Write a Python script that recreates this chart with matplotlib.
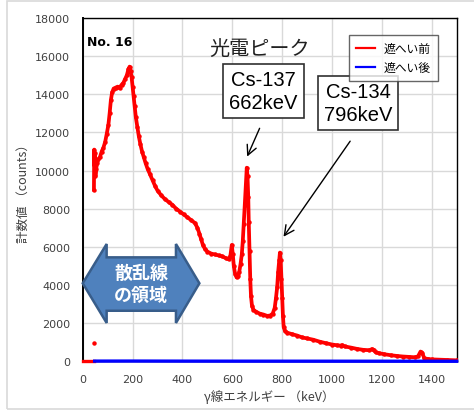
import matplotlib
matplotlib.use("Agg")
import matplotlib.pyplot as plt
from matplotlib.patches import Polygon, Rectangle

plt.rcParams['font.family'] = ['DejaVu Sans', 'Noto Sans CJK JP']

# before shielding (遮へい前)
floor_kev = [0, 8, 16, 24, 32, 40, 46]
floor_counts = [0, 0, 0, 0, 0, 0, 0]
spike_kev = [47]
spike_counts = [950]

spectrum_kev = [45, 46, 47, 49, 51, 54, 58, 63, 69, 76, 83, 90, 96, 103, 108,
                113, 118, 124, 132, 140, 148, 156, 163, 170, 177, 183, 188, 192,
                196, 200, 204, 208, 213, 219, 225, 231, 238, 245, 252, 260, 270,
                280, 290, 300, 315, 330, 345, 360, 375, 390, 405, 420, 435, 450,
                460, 468, 475, 482, 490, 500, 515, 530, 545, 560, 575, 585, 592,
                598, 602, 606, 611, 617, 623, 628, 633, 638, 642, 646, 650, 654,
                658, 661, 664, 666, 669, 672, 675, 679, 685, 695, 710, 725, 740,
                752, 762, 770, 775, 780, 784, 788, 791, 794, 797, 800, 803, 806,
                811, 820, 840, 860, 880, 900, 925, 950, 975, 1000, 1020, 1035,
                1040, 1050, 1075, 1100, 1125, 1150, 1160, 1167, 1175, 1190, 1210,
                1235, 1260, 1285, 1310, 1333, 1345, 1355, 1362, 1370, 1385, 1400,
                1430, 1460, 1500]
spectrum_counts = [9000, 11100, 10300, 10900, 9700, 10100, 10400, 10600, 10700,
                   11000, 11200, 11500, 11900, 12400, 13000, 13700, 14100, 14300,
                   14350, 14400, 14350, 14500, 14600, 14800, 15000, 15300, 15450,
                   15200, 14900, 14400, 13900, 13400, 12800, 12300, 11800, 11400,
                   11000, 10700, 10400, 10100, 9800, 9500, 9200, 8950, 8700, 8500,
                   8350, 8200, 8000, 7850, 7700, 7550, 7400, 7250, 7000, 6700,
                   6400, 6100, 5900, 5750, 5650, 5600, 5550, 5500, 5400, 5350,
                   5500, 6100, 5600, 5000, 4600, 4400, 4450, 4700, 5100, 5600,
                   6300, 7200, 8200, 9200, 10150, 9700, 8600, 7300, 5800, 4300,
                   3400, 2900, 2700, 2600, 2500, 2450, 2380, 2400, 2500, 2800,
                   3300, 3900, 4700, 5300, 5700, 5300, 4300, 3300, 2400, 1800,
                   1600, 1500, 1420, 1350, 1250, 1200, 1130, 1030, 950, 880, 840,
                   820, 850, 780, 720, 650, 600, 580, 640, 600, 470, 420, 370, 320,
                   280, 250, 230, 210, 260, 510, 430, 160, 120, 100, 85, 70, 50]

# after shielding (遮へい後)
after_kev = [48, 200, 400, 600, 800, 1000, 1200, 1400, 1500]
after_counts = [10, 12, 8, 6, 5, 4, 3, 2, 1]

xticks = [0, 200, 400, 600, 800, 1000, 1200, 1400]
yticks = list(range(0, 18001, 2000))

fig = plt.figure(figsize=(4.74, 4.14), dpi=100)
fig.patches.append(Rectangle((7 / 474, 4 / 414), 1.0, 1 - 6 / 414, transform=fig.transFigure,
                             fill=False, edgecolor='#d9d9d9', linewidth=1.2))
ax = fig.add_axes([0.1745, 0.1249, 0.789, 0.8292])

red = '#ff0000'
ax.plot(floor_kev, floor_counts, color=red, lw=2.4, zorder=3, clip_on=False)
ax.plot(spike_kev, spike_counts, 'o', color=red, ms=2.2, zorder=3)
ax.plot(spectrum_kev, spectrum_counts, '-', color=red, lw=2.7, zorder=3,
        marker='o', ms=2.2, label='遮へい前')
ax.plot(after_kev, after_counts, color='#0000ff', lw=2.4, zorder=4,
        clip_on=False, label='遮へい後')

ax.set_xlim(0, 1500)
ax.set_ylim(0, 18000)
ax.set_xticks(xticks)
ax.set_yticks(yticks)
ax.grid(True, color='#d9d9d9', lw=1)
ax.set_axisbelow(True)
ax.tick_params(length=0, labelsize=8, labelcolor='#404040')
ax.tick_params(axis='x', pad=9)
ax.tick_params(axis='y', pad=9)
for s in ax.spines.values():
    s.set_color('black')
    s.set_linewidth(1.0)
ax.spines['left'].set_linewidth(1.4)

ax.set_xlabel('γ線エネルギー （keV）', fontsize=9, color='#404040',
              family=['Noto Sans CJK JP', 'DejaVu Sans'], labelpad=4)
ax.set_ylabel('計数値 （counts）', fontsize=9, color='#404040',
              family=['Noto Sans CJK JP', 'DejaVu Sans'], labelpad=4)

leg = ax.legend(loc='upper right', bbox_to_anchor=(0.966, 0.967), fontsize=8.5,
                frameon=True, fancybox=False, handlelength=1.6, borderpad=0.6,
                labelspacing=0.5, prop={'family': ['Noto Sans CJK JP', 'DejaVu Sans'], 'size': 8.5})
leg.get_frame().set_edgecolor('#404040')
leg.get_frame().set_linewidth(1.0)
for h in leg.legend_handles:
    h.set_marker('')
    h.set_linewidth(1.6)

ax.text(0.012, 0.932, 'No. 16', transform=ax.transAxes, fontsize=9,
        fontweight='bold', va='center', ha='left')
ax.text(710, 16400, '光電ピーク', fontsize=14.5, ha='center', va='center',
        family=['Noto Sans CJK JP'], color='#202020')

box = dict(boxstyle='square,pad=0.3', fc='white', ec='#303030', lw=1.2)
ax.text(725, 14190, 'Cs-137\n662keV', fontsize=14.5, ha='center', va='center',
        family='Liberation Sans', linespacing=1.25, bbox=box)
ax.text(1104, 13560, 'Cs-134\n796keV', fontsize=14.5, ha='center', va='center',
        family='Liberation Sans', linespacing=1.25, bbox=box)
ax.annotate('', xy=(655, 10600), xytext=(714, 12350),
            arrowprops=dict(arrowstyle='->,head_length=0.7,head_width=0.35', lw=1.0, color='black'))
ax.annotate('', xy=(799, 6410), xytext=(1079, 11660),
            arrowprops=dict(arrowstyle='->,head_length=0.7,head_width=0.35', lw=1.0, color='black'))

arrow_shape = [(0, 4090), (96, 6150), (96, 5450), (374, 5450), (374, 6150), (468, 4090),
               (374, 2010), (374, 2650), (96, 2650), (96, 2010)]
ax.add_patch(Polygon(arrow_shape, closed=True, fc='#4f81bd', ec='#385d8a', lw=1.8,
                     zorder=5, clip_on=False))
ax.text(234, 4090, '散乱線\nの領域', fontsize=13, fontweight='bold', color='white',
        ha='center', va='center', family=['Noto Sans CJK JP'], linespacing=1.2, zorder=6)

fig.savefig('out.png', dpi=100)
